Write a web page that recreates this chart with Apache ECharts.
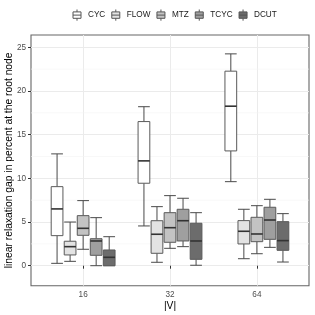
<!DOCTYPE html>
<html><head><meta charset="utf-8">
<script src="https://cdn.jsdelivr.net/npm/echarts@6/dist/echarts.min.js"></script>
<style>html,body{margin:0;padding:0;background:#fff}#c{width:315px;height:315px}</style>
</head><body><div id="c"></div>
<script>
const groups = ['16', '32', '64'];
const methods = ['CYC', 'FLOW', 'MTZ', 'TCYC', 'DCUT'];
// [low, q1, median, q3, high] for each group
const CYC  = [[0.27, 3.44, 6.5, 9.05, 12.8], [4.55, 9.44, 12.0, 16.5, 18.2], [9.62, 13.14, 18.26, 22.27, 24.25]];
const FLOW = [[0.5, 1.23, 2.18, 2.8, 5.0], [0.39, 1.42, 3.6, 5.15, 6.76], [0.8, 2.49, 3.94, 5.16, 6.46]];
const MTZ  = [[1.88, 3.48, 4.28, 5.73, 7.45], [1.99, 2.68, 4.35, 6.07, 8.02], [1.37, 2.75, 3.63, 5.54, 6.87]];
const TCYC = [[0.0, 1.19, 2.83, 3.09, 5.5], [2.18, 2.83, 5.15, 6.46, 7.72], [2.1, 3.02, 5.23, 6.69, 7.6]];
const DCUT = [[0.0, 0.0, 0.96, 1.8, 3.32], [0.05, 0.73, 2.83, 4.86, 6.07], [0.42, 1.76, 2.87, 5.04, 5.96]];
const yMajor = [0, 5, 10, 15, 20, 25];
const yMinor = [2.5, 7.5, 12.5, 17.5, 22.5];

const seriesData = [CYC, FLOW, MTZ, TCYC, DCUT];
const fills = ['#FFFFFF', '#E3E3E3', '#C3C3C3', '#9F9F9F', '#6C6C6C'];
const dodge = 0.75, nM = methods.length, slot = dodge / nM, boxW = slot * 0.9;

const chart = echarts.init(document.getElementById('c'), null, {renderer: 'canvas'});

const boxSeries = methods.map((m, i) => ({
  name: m,
  type: 'custom',
  z: 5,
  itemStyle: {color: fills[i], borderColor: '#555'},
  data: seriesData[i].map((d, g) => [g + 1].concat(d)),
  encode: {x: 0, y: [1, 2, 3, 4, 5]},
  renderItem: function (params, api) {
    const off = -dodge / 2 + slot * (i + 0.5);
    const x = api.value(0) + off;
    const w = api.size([boxW, 0])[0];
    const pL = api.coord([x, api.value(1)]);
    const p1 = api.coord([x, api.value(2)]);
    const pM = api.coord([x, api.value(3)]);
    const p3 = api.coord([x, api.value(4)]);
    const pH = api.coord([x, api.value(5)]);
    const cx = pL[0], l = cx - w / 2, r = cx + w / 2;
    const ln = '#4a4a4a';
    return {
      type: 'group',
      children: [
        {type: 'line', shape: {x1: cx, y1: pL[1], x2: cx, y2: p1[1]}, style: {stroke: ln, lineWidth: 1}},
        {type: 'line', shape: {x1: cx, y1: p3[1], x2: cx, y2: pH[1]}, style: {stroke: ln, lineWidth: 1}},
        {type: 'line', shape: {x1: l, y1: pL[1], x2: r, y2: pL[1]}, style: {stroke: ln, lineWidth: 1}},
        {type: 'line', shape: {x1: l, y1: pH[1], x2: r, y2: pH[1]}, style: {stroke: ln, lineWidth: 1}},
        {type: 'rect', shape: {x: l, y: p3[1], width: w, height: p1[1] - p3[1]},
          style: {fill: fills[i], stroke: '#5a5a5a', lineWidth: 1}},
        {type: 'line', shape: {x1: l, y1: pM[1], x2: r, y2: pM[1]}, style: {stroke: '#333', lineWidth: 1.6}}
      ]
    };
  }
}));

const minorSeries = {
  type: 'custom',
  silent: true,
  z: 1,
  data: yMinor.map(v => [v]),
  encode: {y: 0},
  renderItem: function (params, api) {
    const cs = params.coordSys;
    const y = api.coord([1, api.value(0)])[1];
    return {type: 'line', shape: {x1: cs.x, y1: y, x2: cs.x + cs.width, y2: y},
      style: {stroke: '#F3F3F3', lineWidth: 0.6}};
  }
};

const font = 'Liberation Sans, Arial, sans-serif';
chart.setOption({
  animation: false,
  legend: {
    top: 9, left: 72.5, padding: 0,
    itemWidth: 8, itemHeight: 12, itemGap: 6,
    icon: 'path://M0,3H10V11H0Z M0,7H10 M5,0V3 M5,11V14',
    itemStyle: {borderColor: '#555', borderWidth: 1},
    textStyle: {fontFamily: font, fontSize: 8.2, color: '#1a1a1a', padding: [0, 0, 0, 2]},
    data: methods
  },
  grid: {left: 31, right: 6, top: 35, bottom: 29.3, show: true, borderColor: '#666', borderWidth: 1.1,
    backgroundColor: 'transparent', outerBoundsMode: 'none', containLabel: false},
  xAxis: {
    type: 'value', min: 0.4, max: 3.6,
    name: '|V|', nameLocation: 'middle', nameGap: 15.5, nameMoveOverlap: false,
    nameTextStyle: {fontFamily: font, fontSize: 10.3, color: '#000', verticalAlign: 'top'},
    axisLine: {show: false},
    axisTick: {show: true, length: 3, lineStyle: {color: '#333'}, customValues: [1, 2, 3]},
    axisLabel: {customValues: [1, 2, 3], margin: 5.5, fontFamily: font, fontSize: 8.2, color: '#4D4D4D',
      formatter: v => groups[Math.round(v) - 1] || ''},
    splitLine: {show: true, lineStyle: {color: '#EBEBEB', width: 1}}
  },
  yAxis: {
    type: 'value', min: -2.29, max: 26.41,
    name: 'linear relaxation gap in percent at the root node', nameLocation: 'middle', nameGap: 17,
    nameMoveOverlap: false,
    nameTextStyle: {fontFamily: font, fontSize: 10.3, color: '#000'},
    axisLine: {show: false},
    axisTick: {show: true, length: 3, lineStyle: {color: '#333'}, customValues: yMajor},
    axisLabel: {customValues: yMajor, margin: 5, fontFamily: font, fontSize: 8.2, color: '#4D4D4D'},
    splitLine: {show: true, lineStyle: {color: '#EBEBEB', width: 1}}
  },
  series: [minorSeries].concat(boxSeries)
});
</script></body></html>
